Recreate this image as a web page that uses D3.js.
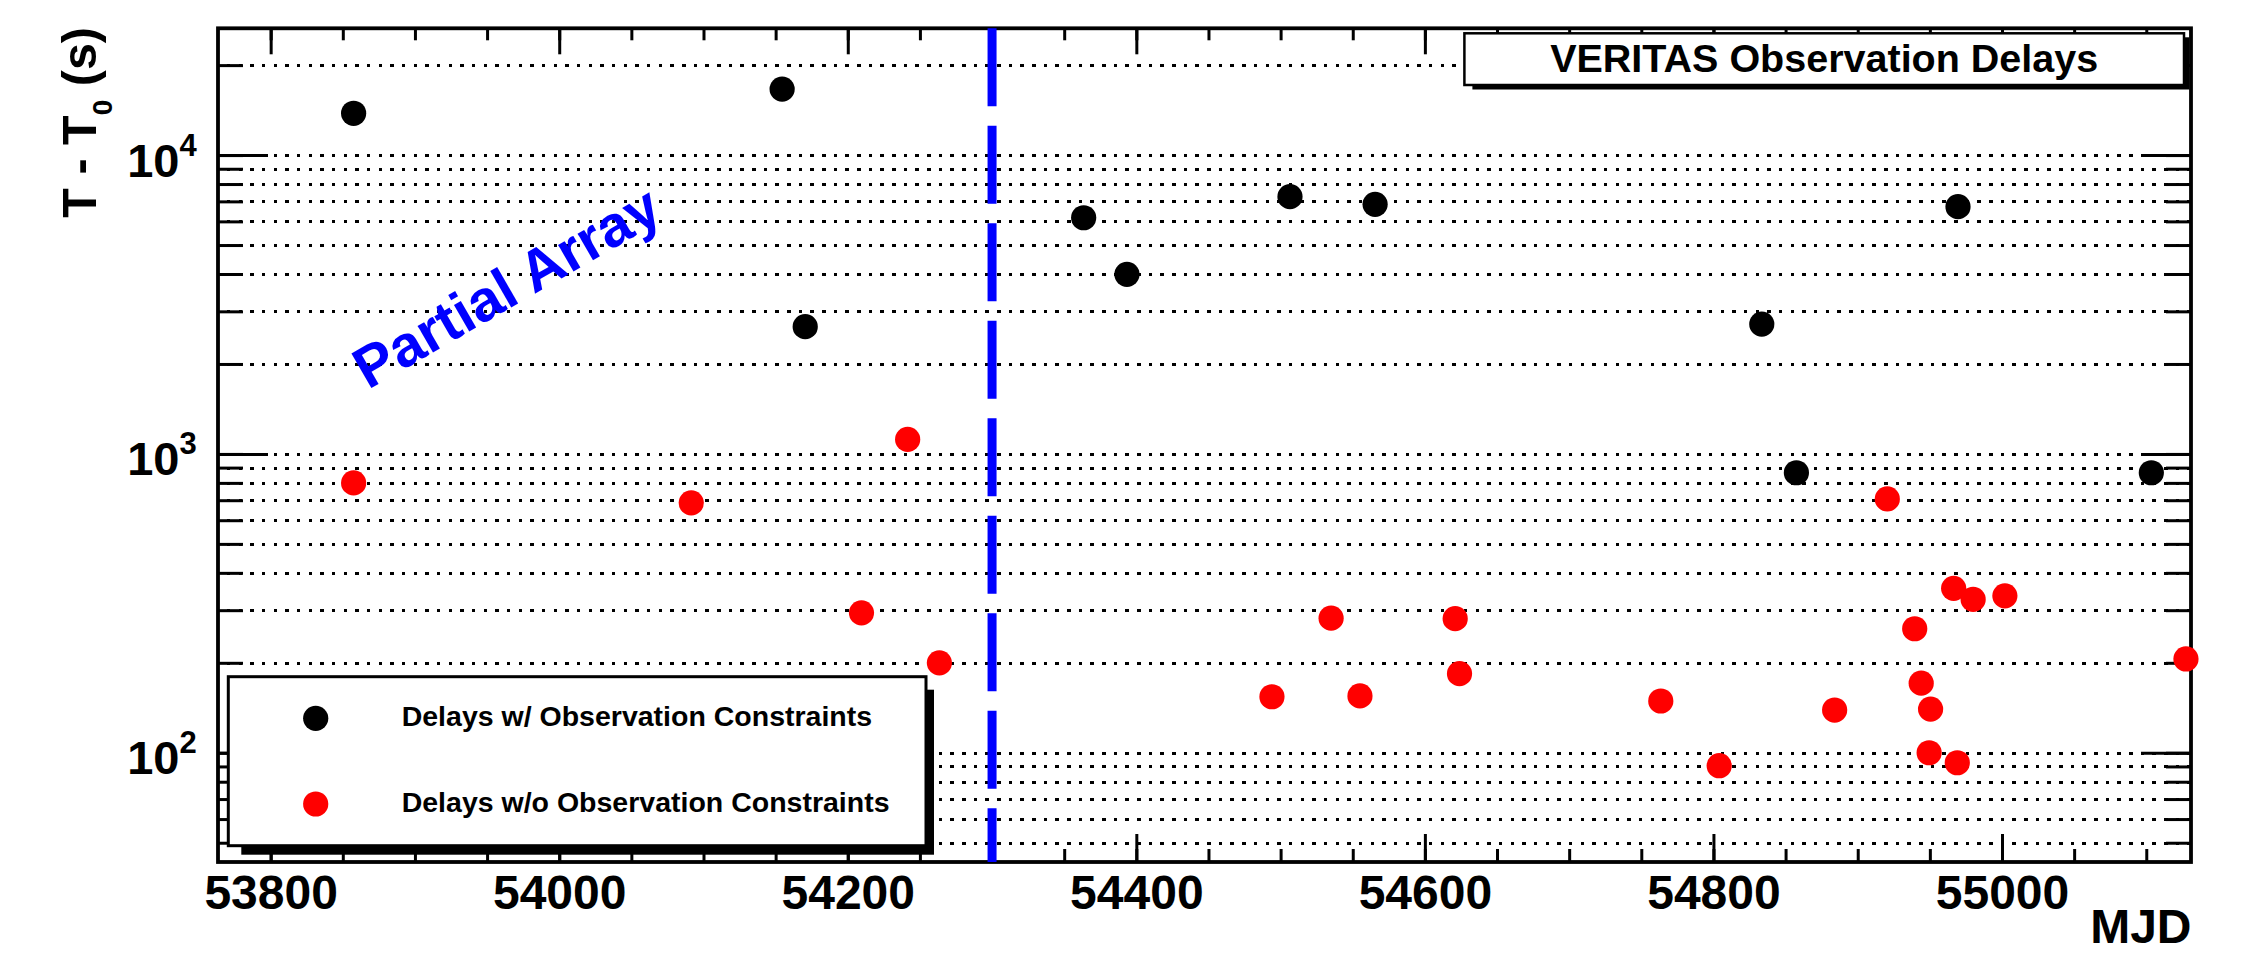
<!DOCTYPE html>
<html>
<head>
<meta charset="utf-8">
<script src="https://cdn.jsdelivr.net/npm/d3@7/dist/d3.min.js"></script>
<style>
    html, body { margin: 0; padding: 0; background: #fff; overflow: hidden; }
    svg { display: block; font-family: "Liberation Sans", Arial, Helvetica, sans-serif; font-weight: bold; }
</style>
</head>
<body>
<svg id="chart" width="2241" height="954"></svg>
<script>
// Delays with observation constraints (black)
const withMJD   = [53857.5, 54154.5, 54170.5, 54363.5, 54393.5, 54506.5, 54565.5, 54833.5, 54857.5, 54969.5, 55103.5];
const withDelay = [13800, 16630, 2665, 6170, 3990, 7260, 6840, 2720, 865, 6720, 865];

// Delays without observation constraints (red)
const withoutMJD   = [53857.5, 54091.5, 54209.5, 54241.5, 54263.5, 54494, 54535, 54555, 54621, 54624,
                      54763.5, 54804, 54884, 54920.5, 54939.5, 54944, 54949.5, 54950.5, 54966.5, 54969,
                      54980, 55002, 55127.5];
const withoutDelay = [800, 686, 294, 1118, 200, 154, 282, 155, 281, 184,
                      149, 90.5, 139, 707, 260, 171, 100, 140, 355, 92.6,
                      326, 335, 206];

const seriesNames  = ['Delays w/ Observation Constraints', 'Delays w/o Observation Constraints'];
const seriesColors = ['#000000', '#ff0000'];

const xDomain = [53763.5, 55131];
const yDomain = [43.1, 26560];
const xMajorTicks = [53800, 54000, 54200, 54400, 54600, 54800, 55000];
const yMajorTicks = [100, 1000, 10000];
const yTickExponents = ['2', '3', '4'];

const partialArrayEnd = 54300;          // end of the partial array period (MJD)
const partialArrayLabel = {mjd: 53867.5, delay: 1636, text: 'Partial Array'};
const chartTitle = 'VERITAS Observation Delays';

const svg = d3.select('#chart');
const frame = {left: 218, right: 2191, top: 28.3, bottom: 862};

const x = d3.scaleLinear().domain(xDomain).range([frame.left, frame.right]);
const y = d3.scaleLog().domain(yDomain).range([frame.bottom, frame.top]);

const xMinorTicks = d3.range(53800, 55101, 50);
const yAllTicks = y.ticks();

// Dotted horizontal grid
svg.append('g')
    .attr('shape-rendering', 'crispEdges')
    .selectAll('line')
    .data(yAllTicks)
    .enter()
    .append('line')
    .attr('x1', frame.left)
    .attr('x2', frame.right)
    .attr('y1', d => Math.round(y(d)) + 0.5)
    .attr('y2', d => Math.round(y(d)) + 0.5)
    .attr('stroke', '#000')
    .attr('stroke-width', 3.3)
    .attr('stroke-dasharray', '3.5,8.17')
    .attr('stroke-dashoffset', 2.8);

// Axes ticks (pointing inwards, like ROOT)
function styleAxis(g) {
    g.select('.domain').remove();
    g.selectAll('.tick line').attr('stroke', '#000').attr('stroke-width', 3);
}

svg.append('g')
    .attr('transform', 'translate(0,' + frame.bottom + ')')
    .call(d3.axisBottom(x).tickValues(xMinorTicks).tickSize(-13).tickFormat(''))
    .call(styleAxis);

const xLabels = svg.append('g')
    .attr('transform', 'translate(0,' + frame.bottom + ')')
    .call(d3.axisBottom(x).tickValues(xMajorTicks).tickSize(-28).tickPadding(13).tickFormat(d3.format('d')))
    .call(styleAxis);
xLabels
    .attr('font-size', 48)
    .attr('font-family', '"Liberation Sans", Arial, sans-serif')
    .attr('font-weight', 'bold');
xLabels.selectAll('text').attr('fill', '#000');

svg.append('g')
    .attr('transform', 'translate(0,' + frame.top + ')')
    .call(d3.axisTop(x).tickValues(xMinorTicks).tickSize(-12).tickFormat(''))
    .call(styleAxis);

svg.append('g')
    .attr('transform', 'translate(0,' + frame.top + ')')
    .call(d3.axisTop(x).tickValues(xMajorTicks).tickSize(-26).tickFormat(''))
    .call(styleAxis);

svg.append('g')
    .attr('transform', 'translate(' + frame.left + ',0)')
    .call(d3.axisLeft(y).tickValues(yAllTicks).tickSize(-25).tickFormat(''))
    .call(styleAxis);

svg.append('g')
    .attr('transform', 'translate(' + frame.left + ',0)')
    .call(d3.axisLeft(y).tickValues(yMajorTicks).tickSize(-50).tickFormat(''))
    .call(styleAxis);

svg.append('g')
    .attr('transform', 'translate(' + frame.right + ',0)')
    .call(d3.axisRight(y).tickValues(yAllTicks).tickSize(-25).tickFormat(''))
    .call(styleAxis);

svg.append('g')
    .attr('transform', 'translate(' + frame.right + ',0)')
    .call(d3.axisRight(y).tickValues(yMajorTicks).tickSize(-50).tickFormat(''))
    .call(styleAxis);

// Y tick labels as 10^n
const yLab = svg.append('g');
yMajorTicks.forEach((v, i) => {
    yLab.append('text')
        .attr('x', 179.5)
        .attr('y', y(v) + 21.5)
        .attr('text-anchor', 'end')
        .attr('font-size', 47)
        .text('10');
    yLab.append('text')
        .attr('x', 179.5)
        .attr('y', y(v) + 0.5)
        .attr('font-size', 31)
        .text(yTickExponents[i]);
});

// Frame
svg.append('rect')
    .attr('x', frame.left)
    .attr('y', frame.top)
    .attr('width', frame.right - frame.left)
    .attr('height', frame.bottom - frame.top)
    .attr('fill', 'none')
    .attr('stroke', '#000')
    .attr('stroke-width', 3.8);

// Axis titles
const yTitle = svg.append('text')
    .attr('transform', 'translate(96,27) rotate(-90)')
    .attr('text-anchor', 'end')
    .attr('font-size', 48.5)
    .style('white-space', 'pre');
yTitle.append('tspan').text('T - T');
yTitle.append('tspan').attr('dy', 16).attr('font-size', 28).text('0');
yTitle.append('tspan').attr('dy', -16).text(' (s)');

svg.append('text')
    .attr('x', frame.right + 0.5)
    .attr('y', 943)
    .attr('text-anchor', 'end')
    .attr('font-size', 48)
    .text('MJD');

// Partial array boundary
svg.append('line')
    .attr('x1', x(partialArrayEnd))
    .attr('x2', x(partialArrayEnd))
    .attr('y1', y(yDomain[1]))
    .attr('y2', y(yDomain[0]))
    .attr('stroke', '#0000ff')
    .attr('stroke-width', 9)
    .attr('stroke-dasharray', '78,19.5');

// Points
svg.append('g')
    .selectAll('circle')
    .data(withMJD)
    .enter()
    .append('circle')
    .attr('cx', d => x(d))
    .attr('cy', (d, i) => y(withDelay[i]))
    .attr('r', 12.6)
    .attr('fill', seriesColors[0]);

svg.append('g')
    .selectAll('circle')
    .data(withoutMJD)
    .enter()
    .append('circle')
    .attr('cx', d => x(d))
    .attr('cy', (d, i) => y(withoutDelay[i]))
    .attr('r', 12.6)
    .attr('fill', seriesColors[1]);

// Legend
const leg = {x0: 228.3, y0: 676.7, x1: 926, y1: 845.7};
svg.append('rect')
    .attr('x', leg.x0 + 13)
    .attr('y', leg.y0 + 13)
    .attr('width', leg.x1 - leg.x0 - 5)
    .attr('height', leg.y1 - leg.y0 - 4)
    .attr('fill', '#000');
svg.append('rect')
    .attr('x', leg.x0)
    .attr('y', leg.y0)
    .attr('width', leg.x1 - leg.x0)
    .attr('height', leg.y1 - leg.y0)
    .attr('fill', '#fff')
    .attr('stroke', '#000')
    .attr('stroke-width', 3);

const rowY = [718.3, 804];
seriesNames.forEach((name, i) => {
    svg.append('circle')
        .attr('cx', 315.7)
        .attr('cy', rowY[i])
        .attr('r', 12.6)
        .attr('fill', seriesColors[i]);
    svg.append('text')
        .attr('x', 401.7)
        .attr('y', rowY[i] + 8)
        .attr('font-size', 28.5)
        .text(name);
});

// Title box
const tb = {x0: 1464.4, y0: 33.3, x1: 2184, y1: 85};
svg.append('rect')
    .attr('x', tb.x0 + 8)
    .attr('y', tb.y0 + 4)
    .attr('width', tb.x1 - tb.x0 - 2.5)
    .attr('height', tb.y1 - tb.y0 + 0.5)
    .attr('fill', '#000');
svg.append('rect')
    .attr('x', tb.x0)
    .attr('y', tb.y0)
    .attr('width', tb.x1 - tb.x0)
    .attr('height', tb.y1 - tb.y0)
    .attr('fill', '#fff')
    .attr('stroke', '#000')
    .attr('stroke-width', 2.5);
svg.append('text')
    .attr('x', (tb.x0 + tb.x1) / 2)
    .attr('y', 71.7)
    .attr('text-anchor', 'middle')
    .attr('font-size', 39.5)
    .text(chartTitle);

// Partial Array annotation
svg.append('text')
    .attr('transform', 'translate(' + x(partialArrayLabel.mjd) + ',' + y(partialArrayLabel.delay) + ') rotate(-30)')
    .attr('font-size', 58)
    .attr('fill', '#0000ff')
    .text(partialArrayLabel.text);
</script>
</body>
</html>
